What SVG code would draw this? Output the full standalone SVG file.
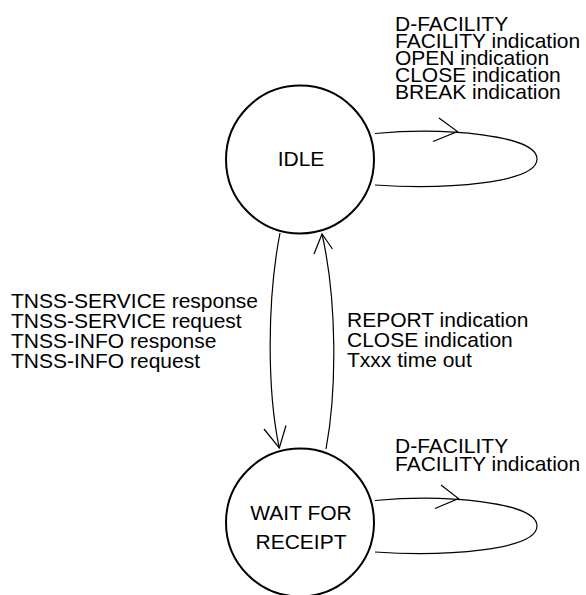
<svg xmlns="http://www.w3.org/2000/svg" width="586" height="595" viewBox="0 0 586 595">
<style>
.st{fill:#fff;stroke:#000;stroke-width:2}
.lb{font-family:"Liberation Sans",Arial,sans-serif;font-size:21px;fill:#000}
.c{text-anchor:middle}
.cn{fill:none;stroke:#000;stroke-width:1.2}
</style>
<rect width="586" height="595" fill="#fff"/>
<g id="connectors">
<path class="cn" d="M375,133.5 C445,127 537,135 537,159 C537,183 445,190 375,185"/>
<polyline class="cn" points="439,118 457.5,131.5 433,141.5"/>
<path class="cn" d="M375,500.5 C445,494 537,502 537,526 C537,550 445,557 375,552"/>
<polyline class="cn" points="441,485 458.5,498.5 435,508.5"/>
<path class="cn" d="M280,233 C267,300 267,390 279.3,448"/>
<polyline class="cn" points="264,429 279.3,448 286,425.5"/>
<path class="cn" d="M326,449 C337,390 337,300 322,234"/>
<polyline class="cn" points="314,254 322,234 332.5,249"/>
</g>
<g id="idle">
<circle class="st" cx="300" cy="159.5" r="74"/>
<text class="lb c" x="301" y="166">IDLE</text>
</g>
<g id="wait">
<circle class="st" cx="300" cy="522.5" r="74"/>
<text class="lb c" x="301" y="520">WAIT FOR</text>
<text class="lb c" x="301" y="549">RECEIPT</text>
</g>
<g id="labels">
<text class="lb" x="395" y="31">D-FACILITY</text>
<text class="lb" x="395" y="48">FACILITY indication</text>
<text class="lb" x="395" y="65">OPEN indication</text>
<text class="lb" x="395" y="82">CLOSE indication</text>
<text class="lb" x="395" y="99">BREAK indication</text>
<text class="lb" x="11" y="308">TNSS-SERVICE response</text>
<text class="lb" x="11" y="328">TNSS-SERVICE request</text>
<text class="lb" x="11" y="348">TNSS-INFO response</text>
<text class="lb" x="11" y="368">TNSS-INFO request</text>
<text class="lb" x="347" y="327">REPORT indication</text>
<text class="lb" x="347" y="347">CLOSE indication</text>
<text class="lb" x="347" y="367">Txxx time out</text>
<text class="lb" x="395" y="453">D-FACILITY</text>
<text class="lb" x="395" y="471">FACILITY indication</text>
</g>
</svg>
